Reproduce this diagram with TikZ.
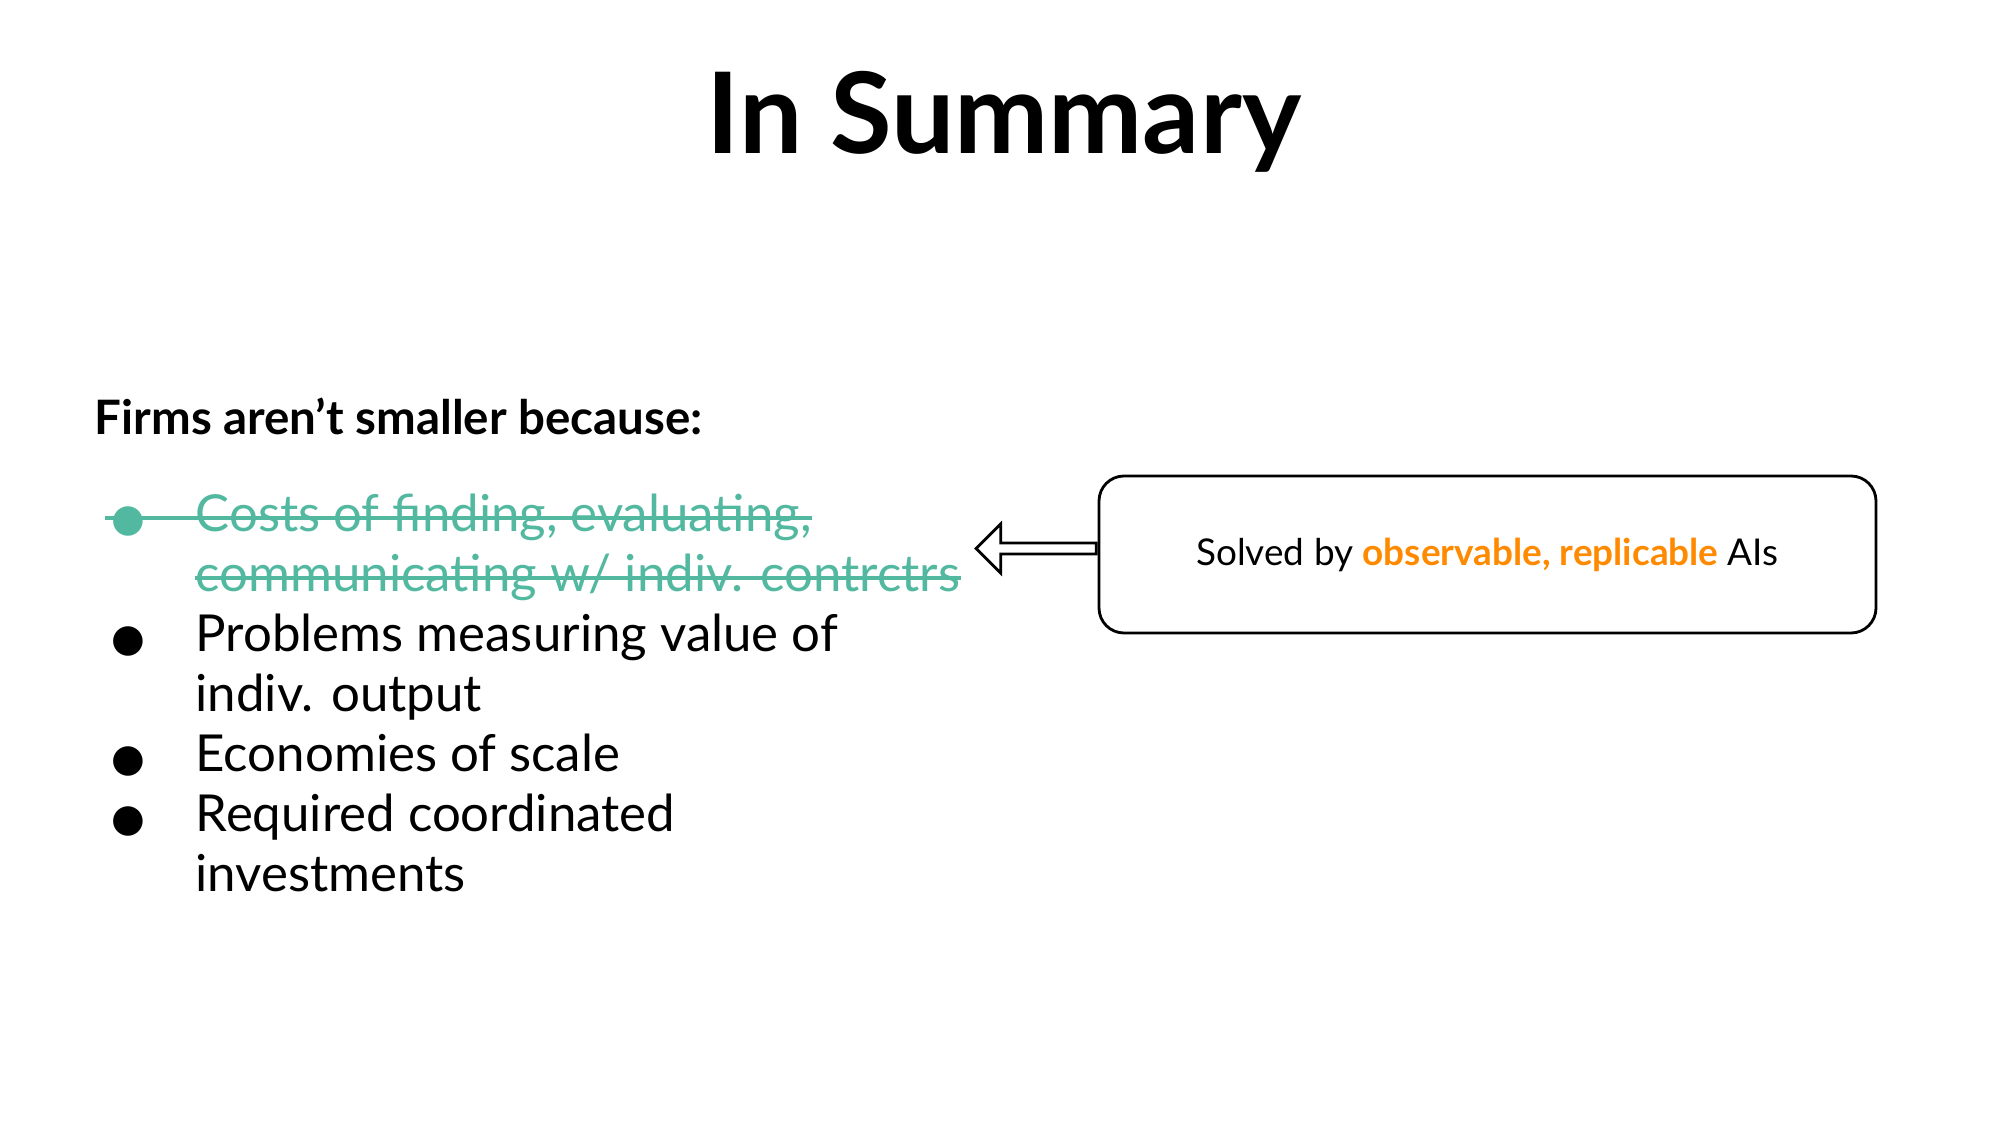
\documentclass[tikz,border=0pt]{standalone}
\usepackage{fontspec}
\setmainfont{Lato}
\newfontfamily\symfont{DejaVu Sans}
\usetikzlibrary{positioning,shapes.arrows}
\definecolor{strikegreen}{HTML}{52B9A0}
\definecolor{hiorange}{HTML}{FF8A00}
\tikzset{
  item/.style={anchor=base west, inner sep=0pt, font=\fontsize{14.5}{17}\selectfont},
  dot/.style={anchor=base, inner sep=0pt, font=\symfont\fontsize{11}{13}\selectfont},
  strike/.style={strikegreen, line width=1.1pt}
}
\begin{document}
\begin{tikzpicture}
\useasboundingbox (0,0) rectangle (20,11.25);

% title and heading
\node[font=\fontsize{32}{36}\selectfont\bfseries] (title) at (10.04,10.03) {In Summary};
\node[anchor=base west, inner sep=0pt, font=\fontsize{13.5}{16}\selectfont\bfseries] (head) at (0.94,6.9) {Firms aren’t smaller because:};

% the list
\node[item, text=strikegreen] (l1) at (1.95,5.94) {Costs of finding, evaluating,};
\node[item, text=strikegreen] (l2) at (1.95,5.34) {communicating w/ indiv. contrctrs};
\node[item] (l3) at (1.95,4.74) {Problems measuring value of};
\node[item] (l4) at (1.95,4.14) {indiv. output};
\node[item] (l5) at (1.95,3.54) {Economies of scale};
\node[item] (l6) at (1.95,2.94) {Required coordinated};
\node[item] (l7) at (1.95,2.34) {investments};
\node[dot, text=strikegreen] (b1) at (1.28,5.94) {●};
\node[dot] (b3) at (1.28,4.74) {●};
\node[dot] (b5) at (1.28,3.54) {●};
\node[dot] (b6) at (1.28,2.94) {●};

% strike-through
\draw[strike] ([xshift=-0.05cm,yshift=0.13cm]b1.base west) -- ([yshift=0.13cm]l1.base east);
\draw[strike] ([yshift=0.13cm]l2.base west) -- ([yshift=0.13cm]l2.base east);

% box and arrow
\node[draw, rounded corners=0.25cm, line width=0.8pt, minimum width=7.77cm, minimum height=1.57cm,
      font=\fontsize{10.5}{13}\selectfont] (box) at (14.875,5.705)
      {Solved by \textcolor{hiorange}{\bfseries observable, replicable} AIs};
\node[single arrow, draw, line width=0.8pt, shape border rotate=180, minimum height=1.2cm,
      single arrow head extend=0.12cm, minimum width=0.49cm, inner sep=0.02cm,
      anchor=tail] (arr) at ([yshift=0.06cm]box.west) {};
\end{tikzpicture}
\end{document}
